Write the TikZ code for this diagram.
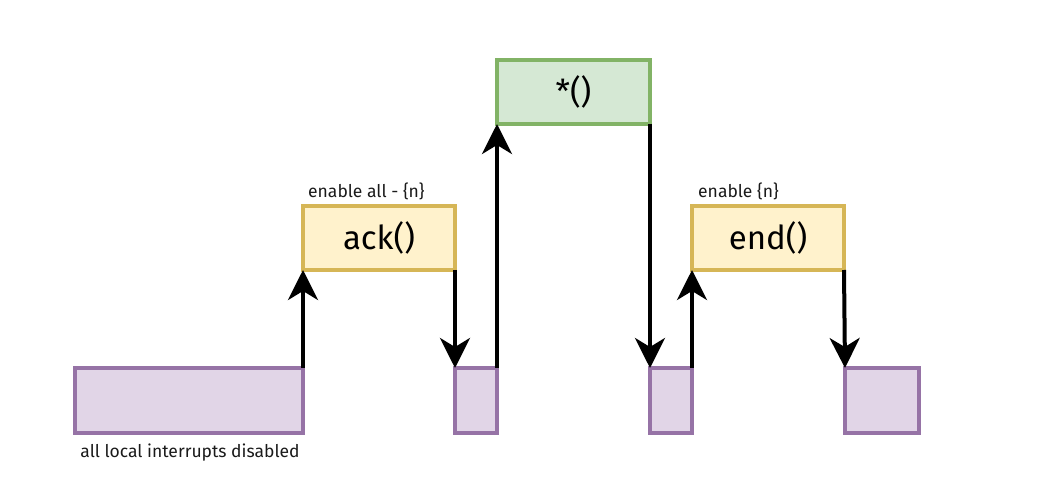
\documentclass[tikz,border=0pt]{standalone}
\usepackage{fontspec}
\setmainfont{Fira Sans}
\usetikzlibrary{arrows.meta}
\definecolor{pfill}{HTML}{E1D5E7}
\definecolor{pdraw}{HTML}{9673A6}
\definecolor{yfill}{HTML}{FFF2CC}
\definecolor{ydraw}{HTML}{D6B656}
\definecolor{gfill}{HTML}{D5E8D4}
\definecolor{gdraw}{HTML}{82B366}
\definecolor{txt}{HTML}{1A1A1A}
\tikzset{
  box/.style={draw, line width=3.5pt, minimum height=64pt, inner sep=0pt, outer sep=0pt, anchor=north west},
  pbox/.style={box, fill=pfill, draw=pdraw},
  ybox/.style={box, fill=yfill, draw=ydraw, minimum width=152pt, font=\fontsize{33}{38}\selectfont},
  gbox/.style={box, fill=gfill, draw=gdraw, minimum width=153pt, font=\fontsize{33}{38}\selectfont},
  flow/.style={line width=4pt, -{Stealth[length=30pt, width=30pt, inset=9pt]}},
  lbl/.style={font=\fontsize{17.5}{21}\selectfont, inner sep=0pt, text=txt}
}
\begin{document}
\begin{tikzpicture}[x=1pt, y=-1pt]
\useasboundingbox (0,0) rectangle (1039,500);
\node[pbox, minimum width=228pt, minimum height=65pt] (p1) at (75,368) {};
\node[pbox, minimum width=42pt, minimum height=65pt] (p2) at (455,368) {};
\node[pbox, minimum width=42pt, minimum height=65pt] (p3) at (650,368) {};
\node[pbox, minimum width=74pt, minimum height=65pt] (p4) at (845,368) {};
\node[ybox] (ack) at (303,206) {ack()};
\node[ybox] (end) at (692,206) {end()};
\node[gbox] (star) at (497,60) {*()};
\node[lbl, anchor=base west] (l1) at (308,197) {enable all - \{n\}};
\node[lbl, anchor=base west] (l2) at (698,197) {enable \{n\}};
\node[lbl, anchor=base] (l3) at (190,457) {all local interrupts disabled};
\draw[flow] (p1.north east) -- (ack.south west);
\draw[flow] (ack.south east) -- (p2.north west);
\draw[flow] (p2.north east) -- (star.south west);
\draw[flow] (star.south east) -- (p3.north west);
\draw[flow] (p3.north east) -- (end.south west);
\draw[flow] (end.south east) -- (p4.north west);
\end{tikzpicture}
\end{document}
